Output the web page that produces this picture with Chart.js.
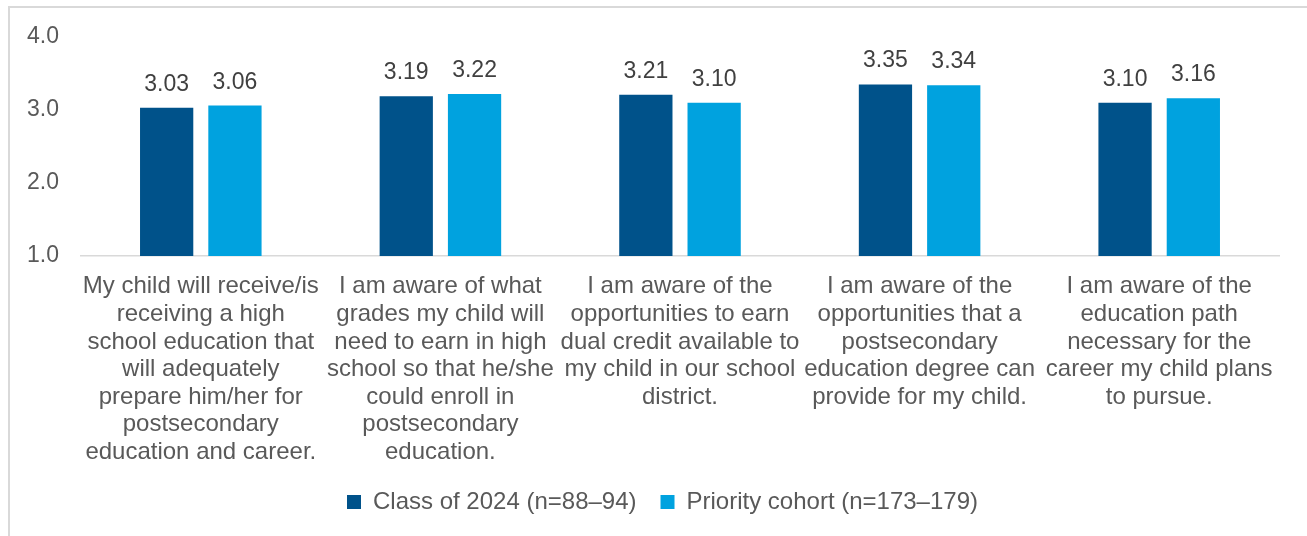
<!DOCTYPE html>
<html>
<head>
<meta charset="utf-8">
<script src="https://cdn.jsdelivr.net/npm/chart.js@4/dist/chart.umd.min.js"></script>
<style>
html,body{margin:0;padding:0;background:#fff;overflow:hidden;}
#frame{position:absolute;left:8px;top:6px;right:-10px;bottom:-10px;border:2px solid #d9d9d9;}
#c{position:absolute;left:0;top:0;}
</style>
</head>
<body>
<div id="frame"></div>
<canvas id="c" width="1307" height="536"></canvas>
<script>
// survey statements, one array of lines per bar group
const categorias = [
  ["My child will receive/is","receiving a high","school education that","will adequately","prepare him/her for","postsecondary","education and career."],
  ["I am aware of what","grades my child will","need to earn in high","school so that he/she","could enroll in","postsecondary","education."],
  ["I am aware of the","opportunities to earn","dual credit available to","my child in our school","district."],
  ["I am aware of the","opportunities that a","postsecondary","education degree can","provide for my child."],
  ["I am aware of the","education path","necessary for the","career my child plans","to pursue."]
];

const nomeClasse = "Class of 2024 (n=88–94)";
const nomePrioridade = "Priority cohort (n=173–179)";

const classe2024 = [3.03, 3.19, 3.21, 3.35, 3.10];
const prioridade = [3.06, 3.22, 3.10, 3.34, 3.16];

const ticksY = [1.0, 2.0, 3.0, 4.0];

const CINZA = "#595959";
Chart.defaults.font.family = "'Liberation Sans', Arial, sans-serif";
Chart.defaults.color = CINZA;

// values written above each bar
const rotulos = {
  id: "rotulos",
  afterDatasetsDraw(chart){
    const ctx = chart.ctx;
    ctx.save();
    ctx.font = "23px 'Liberation Sans', Arial, sans-serif";
    ctx.fillStyle = "#404040";
    ctx.textAlign = "center";
    ctx.textBaseline = "alphabetic";
    chart.data.datasets.forEach((ds, i) => {
      chart.getDatasetMeta(i).data.forEach((bar, j) => {
        ctx.fillText(ds.data[j].toFixed(2), bar.x, bar.y - 17);
      });
    });
    ctx.restore();
  }
};

new Chart(document.getElementById("c"), {
  type: "bar",
  data: {
    labels: categorias,
    datasets: [
      {label: nomeClasse, data: classe2024, backgroundColor: "#00528a",
       categoryPercentage: 0.57, barPercentage: 0.78},
      {label: nomePrioridade, data: prioridade, backgroundColor: "#00a2df",
       categoryPercentage: 0.57, barPercentage: 0.78}
    ]
  },
  options: {
    responsive: false,
    animation: false,
    layout: {padding: {left: 18, right: 0, top: 37, bottom: 12}},
    scales: {
      x: {
        grid: {display: false, drawTicks: false},
        border: {display: true, color: "#d9d9d9", width: 1.5},
        ticks: {
          font: {size: 24, lineHeight: 1.15},
          color: CINZA,
          padding: 17,
          maxRotation: 0,
          autoSkip: false
        },
        afterFit(scale){ scale.height = 210; }
      },
      y: {
        min: ticksY[0],
        max: ticksY[ticksY.length - 1],
        grid: {display: false, drawTicks: false},
        border: {display: false},
        ticks: {
          stepSize: 1,
          font: {size: 23},
          color: CINZA,
          padding: 22,
          callback: v => v.toFixed(1)
        },
        afterFit(scale){ scale.width = 63; }
      },
      // empty right margin so the plot ends before the frame edge
      margem: {
        position: "right",
        min: 0,
        max: 1,
        grid: {display: false, drawTicks: false},
        border: {display: false},
        ticks: {display: false},
        afterFit(scale){ scale.width = 28; }
      }
    },
    plugins: {
      legend: {
        position: "bottom",
        labels: {
          boxWidth: 14,
          boxHeight: 14,
          padding: 24,
          font: {size: 24},
          color: CINZA
        }
      },
      tooltip: {enabled: false}
    }
  },
  plugins: [rotulos]
});
</script>
</body>
</html>
